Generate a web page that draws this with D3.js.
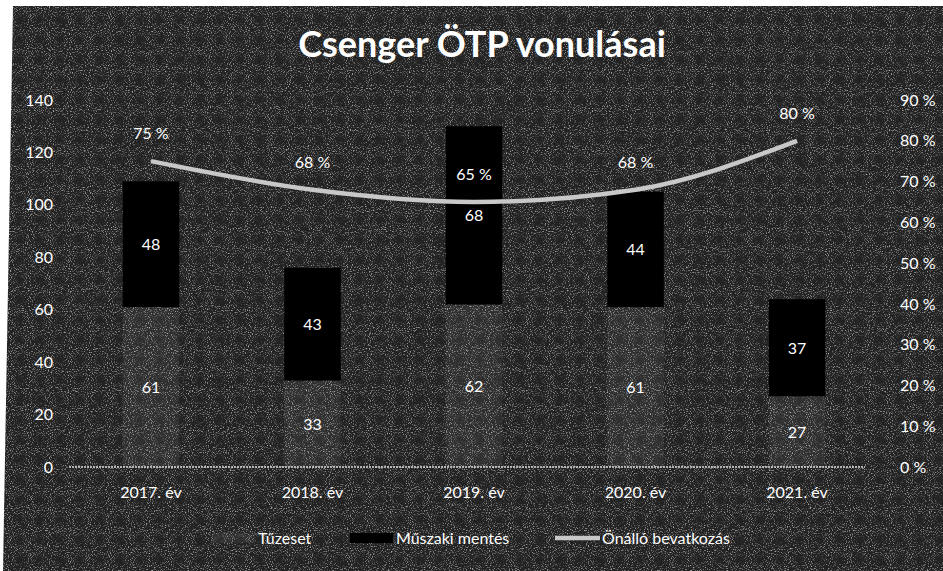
<!DOCTYPE html>
<html>
<head>
<meta charset="utf-8">
<script src="https://cdn.jsdelivr.net/npm/d3@7"></script>
<style>
  body { margin: 0; background: #fff; }
  svg { display: block; }
  text { font-family: Lato, "Open Sans", sans-serif; }
</style>
</head>
<body>
<svg id="chart"></svg>
<script>
const years = ["2017. év", "2018. év", "2019. év", "2020. év", "2021. év"];
const tuzeset = [61, 33, 62, 61, 27];
const muszaki = [48, 43, 68, 44, 37];
const onallo = [75, 68, 65, 68, 80]; // percent
const leftTicks = [0, 20, 40, 60, 80, 100, 120, 140];
const rightTicks = [0, 10, 20, 30, 40, 50, 60, 70, 80, 90];

const width = 943, height = 571;
const margin = { top: 100, right: 66, bottom: 104, left: 71 };

const svg = d3.select("#chart").attr("width", width).attr("height", height);

// scanned look: near-black page with white speckles
const defs = svg.append("defs");
const f = defs.append("filter").attr("id", "noise").attr("x", 0).attr("y", 0).attr("width", "100%").attr("height", "100%");
f.append("feTurbulence").attr("type", "fractalNoise").attr("baseFrequency", 0.95).attr("numOctaves", 1).attr("seed", 7);
f.append("feColorMatrix").attr("type", "matrix")
  .attr("values", "0 0 0 0 1  0 0 0 0 1  0 0 0 0 1  4 0 0 0 -2.1");

svg.append("rect").attr("width", width).attr("height", height).attr("fill", "#222");
svg.append("rect").attr("width", width).attr("height", height)
  .attr("filter", "url(#noise)").attr("opacity", 0.6);

const innerW = width - margin.left - margin.right;
const innerH = height - margin.top - margin.bottom;

const x = d3.scaleBand().domain(years).range([0, innerW]).paddingInner(0.65).paddingOuter(0.32);
const y = d3.scaleLinear().domain([0, 140]).range([innerH, 0]);
const y2 = d3.scaleLinear().domain([0, 90]).range([innerH, 0]);

const g = svg.append("g").attr("transform", `translate(${margin.left},${margin.top})`);

// title
svg.append("text")
  .attr("x", 482).attr("y", 57)
  .attr("text-anchor", "middle")
  .attr("font-size", "36px").attr("font-weight", "bold")
  .attr("fill", "#fff")
  .text("Csenger ÖTP vonulásai");

// baseline
g.append("line")
  .attr("x1", -2).attr("x2", innerW - 12)
  .attr("y1", y(0)).attr("y2", y(0))
  .attr("stroke", "#ddd").attr("stroke-width", 1.5).attr("stroke-dasharray", "2,1");

// bars
const bw = x.bandwidth();
g.selectAll(".bar-t").data(years).enter().append("rect")
  .attr("x", d => x(d)).attr("width", bw)
  .attr("y", (d, i) => y(tuzeset[i]))
  .attr("height", (d, i) => y(0) - y(tuzeset[i]))
  .attr("fill", "#fff").attr("fill-opacity", 0.06);

g.selectAll(".bar-m").data(years).enter().append("rect")
  .attr("x", d => x(d)).attr("width", bw)
  .attr("y", (d, i) => y(tuzeset[i] + muszaki[i]))
  .attr("height", (d, i) => y(tuzeset[i]) - y(tuzeset[i] + muszaki[i]))
  .attr("fill", "#000");

// line
const line = d3.line()
  .x((d, i) => x(years[i]) + bw / 2)
  .y(d => y2(d))
  .curve(d3.curveMonotoneX);

g.append("path").datum(onallo)
  .attr("d", line)
  .attr("fill", "none")
  .attr("stroke", "#c8c8c8").attr("stroke-width", 4.5);

const labelSize = "16px";
// data labels
g.selectAll(".lab-t").data(years).enter().append("text")
  .attr("x", d => x(d) + bw / 2)
  .attr("y", (d, i) => (y(0) + y(tuzeset[i])) / 2 + 6)
  .attr("text-anchor", "middle").attr("font-size", labelSize).attr("fill", "#fff")
  .text((d, i) => tuzeset[i]);

g.selectAll(".lab-m").data(years).enter().append("text")
  .attr("x", d => x(d) + bw / 2)
  .attr("y", (d, i) => (y(tuzeset[i]) + y(tuzeset[i] + muszaki[i])) / 2 + 6)
  .attr("text-anchor", "middle").attr("font-size", labelSize).attr("fill", "#fff")
  .text((d, i) => muszaki[i]);

g.selectAll(".lab-o").data(years).enter().append("text")
  .attr("x", d => x(d) + bw / 2)
  .attr("y", (d, i) => y2(onallo[i]) - 22)
  .attr("text-anchor", "middle").attr("font-size", labelSize).attr("fill", "#fff")
  .text((d, i) => onallo[i] + " %");

// axes
const axisL = g.append("g").call(d3.axisLeft(y).tickValues(leftTicks).tickSize(0).tickPadding(18));
const axisR = g.append("g").attr("transform", `translate(${innerW},0)`)
  .call(d3.axisRight(y2).tickValues(rightTicks).tickSize(0).tickPadding(23).tickFormat(d => d + " %"));
const axisB = g.append("g").attr("transform", `translate(0,${innerH})`)
  .call(d3.axisBottom(x).tickSize(0).tickPadding(20));

[axisL, axisR, axisB].forEach(a => {
  a.select(".domain").remove();
  a.selectAll("text").attr("fill", "#fff").attr("font-size", "16px")
    .attr("font-family", "Lato, sans-serif");
});

// legend
const legend = svg.append("g").attr("transform", "translate(0,538)");
const legendItems = [
  { name: "Tűzeset", type: "rect", x: 212 },
  { name: "Műszaki mentés", type: "rect", x: 350 },
  { name: "Önálló bevatkozás", type: "line", x: 555 }
];
legendItems.forEach((it, k) => {
  if (it.type === "rect") {
    legend.append("rect").attr("x", it.x).attr("y", -5).attr("width", 43).attr("height", 10)
      .attr("fill", k === 0 ? "#fff" : "#000").attr("fill-opacity", k === 0 ? 0.06 : 1);
  } else {
    legend.append("line").attr("x1", it.x).attr("x2", it.x + 45).attr("y1", 0).attr("y2", 0)
      .attr("stroke", "#c8c8c8").attr("stroke-width", 4.5);
  }
  legend.append("text")
    .attr("x", it.type === "rect" ? it.x + 46 : it.x + 47).attr("y", 6)
    .attr("font-size", "16px").attr("fill", "#fff")
    .text(it.name);
});

// paper edges of the scan
svg.append("path").attr("d", "M0,0 H943 V6 H13 L3,571 H0 Z").attr("fill", "#fff");
</script>
</body>
</html>
